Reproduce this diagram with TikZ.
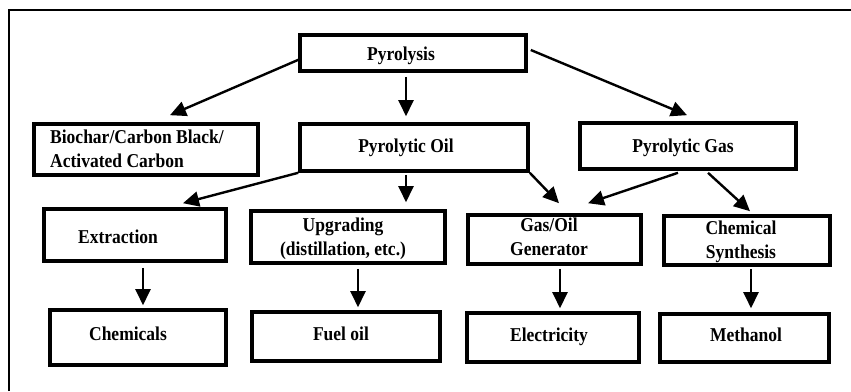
\documentclass[tikz,border=0pt]{standalone}
\usepackage{fontspec}
\usepackage{graphicx}
\setmainfont{Liberation Serif}
\usetikzlibrary{arrows.meta}
\newcommand\tx[2][c]{\scalebox{1}[1.12]{\begin{tabular}[t]{@{}#1@{}}#2\end{tabular}}}
\begin{document}
\begin{tikzpicture}[x=1pt,y=-1pt,
  box/.style={draw=black, line width=3.6pt, inner sep=0pt, fill=white},
  lbl/.style={inner sep=0pt, anchor=base, font=\fontsize{17.5}{21.5}\selectfont\bfseries},
  arr/.style={line width=2.4pt, -{Triangle[length=16pt,width=15pt]}}]
\useasboundingbox (0,0) rectangle (851,391);
\fill[white] (0,0) rectangle (851,391);
\draw[line width=2.5pt] (9,391) -- (9,10) -- (851,10);

% boxes
\node[box, minimum width=226pt, minimum height=36pt] (pyro) at (413,53) {};
\node[box, minimum width=224pt, minimum height=51pt] (bio)  at (146,149.5) {};
\node[box, minimum width=228pt, minimum height=47pt] (oil)  at (414,147.5) {};
\node[box, minimum width=216pt, minimum height=46pt] (gas)  at (688,146) {};
\node[box, minimum width=182pt, minimum height=52pt] (ext)  at (135,235) {};
\node[box, minimum width=194pt, minimum height=52pt] (upg)  at (348,237) {};
\node[box, minimum width=173pt, minimum height=49pt] (gen)  at (554.5,239.5) {};
\node[box, minimum width=166pt, minimum height=49pt] (chs)  at (747,240.5) {};
\node[box, minimum width=176pt, minimum height=55pt] (chem) at (138,337.5) {};
\node[box, minimum width=188pt, minimum height=49pt] (fuel) at (346,336.5) {};
\node[box, minimum width=172pt, minimum height=49pt] (elec) at (553,337.5) {};
\node[box, minimum width=169pt, minimum height=48pt] (meth) at (744.5,338) {};

% texts
\node[lbl] (tpyro) at (401,60) {\tx{Pyrolysis}};
\node[lbl, anchor=base west] (tbio) at (50,143) {\tx[l]{Biochar/Carbon Black/\\Activated Carbon}};
\node[lbl] (toil) at (406,152) {\tx{Pyrolytic Oil}};
\node[lbl] (tgas) at (683,152) {\tx{Pyrolytic Gas}};
\node[lbl] (text) at (118,243) {\tx{Extraction}};
\node[lbl] (tupg) at (343,231) {\tx{Upgrading\\(distillation, etc.)}};
\node[lbl] (tgen) at (549,231) {\tx{Gas/Oil\\Generator}};
\node[lbl] (tchs) at (741,234) {\tx{Chemical\\Synthesis}};
\node[lbl] (tchem) at (128,340) {\tx{Chemicals}};
\node[lbl] (tfuel) at (341,340) {\tx{Fuel oil}};
\node[lbl] (telec) at (549,341) {\tx{Electricity}};
\node[lbl] (tmeth) at (746,341) {\tx{Methanol}};

% arrows
\draw[arr] ([xshift=2pt,yshift=-6pt]pyro.west) -- ([xshift=24pt,yshift=7pt]bio.north);
\draw[arr] ([xshift=-7pt,yshift=-4pt]pyro.south) -- ([xshift=-8pt,yshift=6pt]oil.north);
\draw[arr] ([xshift=3pt,yshift=3pt]pyro.east) -- ([xshift=-1pt,yshift=6pt]gas.north);
\draw[arr] (oil.south west) -- ([xshift=48pt,yshift=4pt]ext.north);
\draw[arr] ([xshift=-8pt,yshift=-2pt]oil.south) -- ([xshift=58pt,yshift=7pt]upg.north);
\draw[arr] (oil.south east) -- ([xshift=4.5pt,yshift=10pt]gen.north);
\draw[arr] ([xshift=-10pt,yshift=-2pt]gas.south) -- ([xshift=33.5pt,yshift=10pt]gen.north);
\draw[arr] ([xshift=20pt,yshift=-2pt]gas.south) -- ([xshift=3pt,yshift=3pt]chs.north);
\draw[arr] ([xshift=8pt,yshift=-5pt]ext.south) -- ([xshift=5pt,yshift=3pt]chem.north);
\draw[arr] ([xshift=10pt,yshift=-4pt]upg.south) -- ([xshift=12pt,yshift=3pt]fuel.north);
\draw[arr] ([xshift=5.5pt,yshift=-3pt]gen.south) -- ([xshift=7pt,yshift=3pt]elec.north);
\draw[arr] ([xshift=4pt,yshift=-2pt]chs.south) -- ([xshift=6.5pt,yshift=4pt]meth.north);
\end{tikzpicture}
\end{document}
